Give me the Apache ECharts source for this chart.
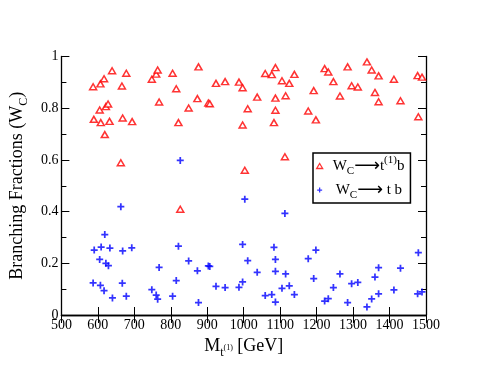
<!DOCTYPE html>
<html>
<head>
<meta charset="utf-8">
<script src="https://cdn.jsdelivr.net/npm/echarts@6/dist/echarts.min.js"></script>
<style>
html,body{margin:0;padding:0;background:#fff;}
#chart{width:480px;height:371px;}
</style>
</head>
<body>
<div id="chart"></div>
<script>
// Mass of t^(1) [GeV] and branching fractions
const redMass = [587,589,605,607,608,617,619,622,628,632,639,663,666,668,678,694,748,760,764,768,805,815,821,826,849,873,876,903,907,924,949,987,997,997,1003,1011,1037,1059,1077,1083,1087,1087,1087,1105,1113,1115,1125,1139,1177,1192,1198,1222,1232,1246,1264,1285,1296,1313,1338,1351,1360,1370,1370,1412,1430,1477,1479,1489];
const redFrac = [0.883,0.757,0.793,0.894,0.744,0.914,0.698,0.806,0.816,0.749,0.945,0.589,0.886,0.762,0.935,0.748,0.912,0.932,0.948,0.824,0.935,0.875,0.744,0.409,0.801,0.837,0.960,0.820,0.817,0.896,0.903,0.901,0.735,0.879,0.560,0.798,0.843,0.934,0.930,0.744,0.957,0.839,0.792,0.906,0.612,0.848,0.896,0.931,0.789,0.868,0.755,0.953,0.940,0.903,0.847,0.960,0.887,0.882,0.979,0.948,0.861,0.925,0.825,0.912,0.829,0.926,0.767,0.920];
const blueMass = [587,590,605,607,609,617,619,622,629,633,640,663,667,668,678,693,748,760,764,768,805,815,821,826,849,873,876,903,907,924,949,987,997,997,1003,1011,1037,1059,1077,1083,1087,1087,1087,1105,1113,1115,1125,1139,1177,1192,1198,1222,1232,1246,1264,1285,1296,1313,1338,1351,1360,1370,1370,1412,1430,1477,1479,1489];
const blueFrac = [0.124,0.251,0.215,0.115,0.263,0.094,0.311,0.200,0.191,0.259,0.066,0.419,0.123,0.248,0.073,0.260,0.098,0.077,0.061,0.184,0.073,0.133,0.266,0.598,0.209,0.171,0.048,0.190,0.188,0.111,0.106,0.107,0.273,0.128,0.448,0.210,0.165,0.075,0.079,0.262,0.215,0.169,0.050,0.103,0.393,0.159,0.113,0.079,0.218,0.141,0.251,0.054,0.063,0.106,0.159,0.048,0.121,0.126,0.031,0.062,0.147,0.183,0.082,0.097,0.181,0.082,0.241,0.089];
const seriesNames = ['Wc to t(1) b', 'Wc to t b'];
const xRange = [500, 1500, 100];
const yRange = [0, 1, 0.2];

const FONT = 'Liberation Serif';
const redData = redMass.map((m, i) => [m, redFrac[i]]);
const blueData = blueMass.map((m, i) => [m, blueFrac[i]]);
const plusPath = 'path://M3,0h2v3h3v2h-3v3h-2v-3h-3v-2h3z';

const axisLine = {show: true, lineStyle: {color: '#000', width: 1.3}};
const tick = {show: true, inside: true, length: 8, lineStyle: {color: '#000', width: 1}};
const minor = {show: true, splitNumber: 2, length: 5, lineStyle: {color: '#000', width: 1}};

const chart = echarts.init(document.getElementById('chart'), null, {renderer: 'canvas'});
chart.setOption({
  animation: false,
  backgroundColor: '#fff',
  grid: {left: 56, right: 54, top: 56.5, bottom: 56, containLabel: false},
  xAxis: [{
    type: 'value', min: xRange[0], max: xRange[1], interval: xRange[2], position: 'bottom',
    axisLine, axisTick: tick, splitLine: {show: false},
    axisLabel: {color: '#000', fontFamily: FONT, fontSize: 14, margin: 3, formatter: v => String(v)},
    name: '{a|M}{sub|t}{sup|(1)}{a| [GeV]}', nameLocation: 'middle', nameGap: 14,
    nameTextStyle: {
      color: '#000', fontFamily: FONT,
      rich: {
        a: {fontFamily: FONT, fontSize: 18, color: '#000', lineHeight: 26, verticalAlign: 'middle'},
        sub: {fontFamily: FONT, fontSize: 12, color: '#000', lineHeight: 26, verticalAlign: 'bottom'},
        sup: {fontFamily: FONT, fontSize: 8, color: '#000', lineHeight: 26, verticalAlign: 'middle', padding: [4,0,0,0]}
      }
    }
  }, {
    type: 'value', min: xRange[0], max: xRange[1], interval: xRange[2], position: 'top',
    axisLine, axisTick: tick, axisLabel: {show: false}, splitLine: {show: false}
  }],
  yAxis: [{
    type: 'value', min: yRange[0], max: yRange[1], interval: yRange[2], position: 'left',
    axisLine, axisTick: tick, minorTick: minor, splitLine: {show: false}, minorSplitLine: {show: false},
    axisLabel: {color: '#000', fontFamily: FONT, fontSize: 14, margin: 3, formatter: v => String(v)},
    name: '{a|Branching Fractions (W}{sub|C}{a|)}', nameLocation: 'middle', nameGap: 28, nameRotate: 90,
    nameTextStyle: {
      color: '#000', fontFamily: FONT,
      rich: {
        a: {fontFamily: FONT, fontSize: 18, color: '#000', lineHeight: 26, verticalAlign: 'middle'},
        sub: {fontFamily: FONT, fontSize: 12, color: '#000', lineHeight: 26, verticalAlign: 'bottom'}
      }
    }
  }, {
    type: 'value', min: yRange[0], max: yRange[1], interval: yRange[2], position: 'right',
    axisLine, axisTick: tick, minorTick: minor, axisLabel: {show: false}, splitLine: {show: false}
  }],
  legend: {
    orient: 'vertical', left: 313, top: 153,
    backgroundColor: '#fff', borderColor: '#000', borderWidth: 1.5, borderRadius: 0,
    padding: [2, 6, 2, 3], itemGap: 4, itemWidth: 6, itemHeight: 5,
    data: [
      {name: seriesNames[0], itemStyle: {borderWidth: 1.3}},
      {name: seriesNames[1]}
    ],
    formatter: function (name) {
      return name === seriesNames[0]
        ? '{w0|W}{sub|C}{ar|⟶}{w|t}{sup|(1)}{w|b}'
        : '{w1|W}{sub|C}{ar|⟶}{w| t b}';
    },
    textStyle: {
      fontFamily: FONT, color: '#000',
      rich: {
        w0: {fontFamily: FONT, fontSize: 15, color: '#000', lineHeight: 22, verticalAlign: 'middle', padding: [0,0,0,5]},
        w1: {fontFamily: FONT, fontSize: 15, color: '#000', lineHeight: 22, verticalAlign: 'middle', padding: [0,0,0,8]},
        w: {fontFamily: FONT, fontSize: 15, color: '#000', lineHeight: 22, verticalAlign: 'middle'},
        sub: {fontFamily: FONT, fontSize: 11, color: '#000', lineHeight: 22, verticalAlign: 'bottom'},
        sup: {fontFamily: FONT, fontSize: 11, color: '#000', lineHeight: 22, verticalAlign: 'top'},
        ar: {fontFamily: 'DejaVu Sans', fontSize: 18, color: '#000', lineHeight: 22, verticalAlign: 'middle'}
      }
    }
  },
  series: [{
    name: seriesNames[0], type: 'scatter', data: redData,
    symbol: 'triangle', symbolSize: [7, 6],
    itemStyle: {color: '#fff', borderColor: '#ff0000', borderWidth: 1.5}
  }, {
    name: seriesNames[1], type: 'scatter', data: blueData,
    symbol: plusPath, symbolSize: 7,
    itemStyle: {color: '#0000ff'}
  }]
});
</script>
</body>
</html>
